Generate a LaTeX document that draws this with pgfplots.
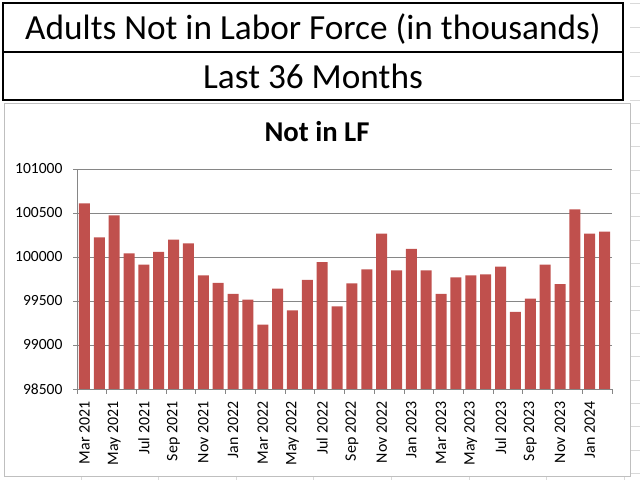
\documentclass[border=0pt]{standalone}
\usepackage{pgfplots}
\pgfplotsset{compat=1.18}
\usepackage{fontspec}
\setmainfont{Carlito}
\definecolor{barred}{HTML}{C0504D}
\definecolor{gridgray}{HTML}{868686}
\definecolor{cellgray}{HTML}{D9D9D9}
\definecolor{framegray}{HTML}{BFBFBF}
\begin{document}
\begin{tikzpicture}[x=1bp,y=1bp]
\path[use as bounding box] (0,0) rectangle (640,480);
% spreadsheet cell lines
\foreach \yy in {3,27,52,76,100,123.3,146.7,170,193.3,216.7,240,263.3,286.7,310,333.3,356.7,380,403.3,426.7,450,473.3}
  \draw[cellgray,line width=0.8bp] (630,480-\yy) -- (640,480-\yy);
\foreach \xx in {81,158.6,236.2,313.8,391.4,469,546.6,624.2}
  \draw[cellgray,line width=0.8bp] (\xx,0) -- (\xx,4);
% chart area frame
\draw[framegray,line width=0.8bp] (4,480-103) rectangle (630,480-476);
% title box
\draw[black,line width=1.5bp] (3,480-3) rectangle (623,480-100);
\draw[black,line width=1.5bp] (3,480-52) -- (623,480-52);
\node[anchor=base,inner sep=0] at (313,480-39.5) {\fontsize{35.4}{40}\selectfont Adults Not in Labor Force (in thousands)};
\node[anchor=base,inner sep=0] at (313,480-88.5) {\fontsize{35.4}{40}\selectfont Last 36 Months};
\node[anchor=base,inner sep=0] at (317,480-141.7) {\fontsize{28.8}{32}\selectfont\bfseries Not in LF};
\begin{axis}[
  at={(77bp,91bp)}, anchor=south west,
  scale only axis, width=535bp, height=220bp,
  xmin=-0.5, xmax=35.5, ymin=98500, ymax=101000,
  ytick={98500,99000,...,101000},
  scaled y ticks=false,
  ymajorgrids, grid style={draw=gridgray, line width=0.8bp},
  axis x line*=bottom, axis y line*=left,
  axis line style={draw=gridgray, line width=0.8bp},
  tick align=outside,
  major tick length=4bp, minor tick length=5bp,
  tick style={draw=gridgray, line width=0.8bp},
  major x tick style={draw=none},
  xtick={0,2,...,34},
  minor xtick={-0.5,1.5,...,35.5},
  xticklabels={Mar 2021, May 2021, Jul 2021, Sep 2021, Nov 2021, Jan 2022, Mar 2022, May 2022, Jul 2022, Sep 2022, Nov 2022, Jan 2023, Mar 2023, May 2023, Jul 2023, Sep 2023, Nov 2023, Jan 2024},
  xticklabel style={rotate=90, anchor=east, font=\fontsize{16}{18}\selectfont, xshift=-5bp},
  yticklabel style={font=\fontsize{15.6}{18}\selectfont, xshift=-7bp},
  yticklabel={\pgfmathprintnumber[fixed,1000 sep={},assume math mode=true]{\tick}},
]
\addplot[ybar, bar width=11bp, fill=barred, draw=none] coordinates {
(0,100610) (1,100223) (2,100473) (3,100042) (4,99913) (5,100057)
(6,100197) (7,100155) (8,99792) (9,99705) (10,99580) (11,99515)
(12,99231) (13,99640) (14,99394) (15,99739) (16,99943) (17,99439)
(18,99701) (19,99860) (20,100265) (21,99848) (22,100091) (23,99848)
(24,99580) (25,99769) (26,99792) (27,99803) (28,99890) (29,99375)
(30,99526) (31,99913) (32,99693) (33,100542) (34,100265) (35,100288)
};
\end{axis}
\end{tikzpicture}
\end{document}
